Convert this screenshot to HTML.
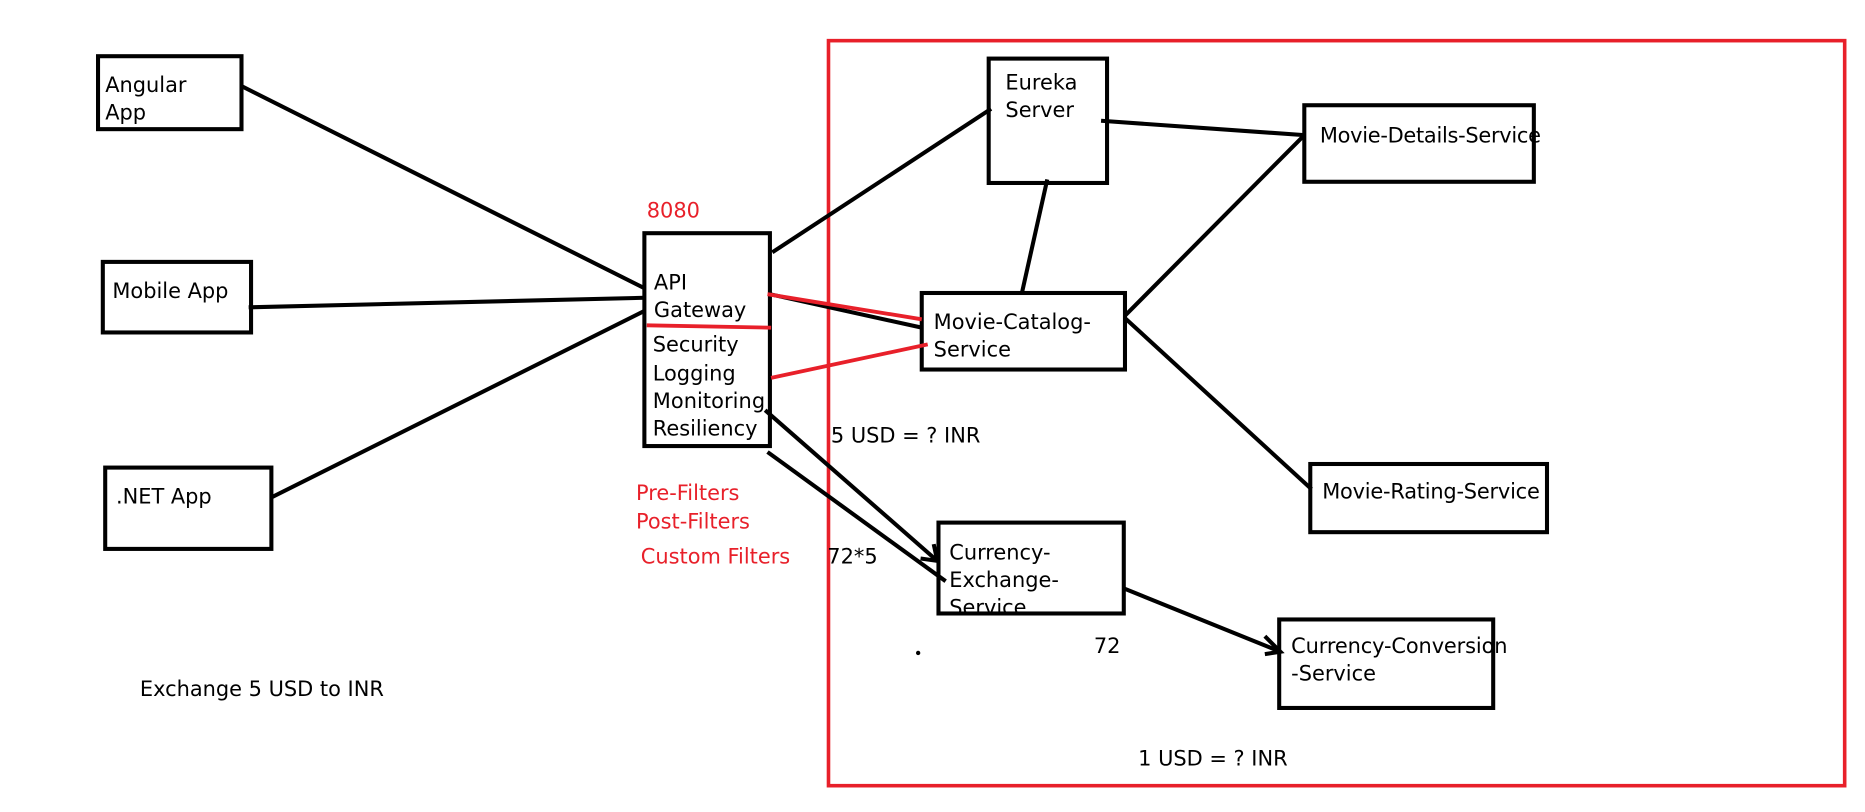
<!DOCTYPE html>
<html><head><meta charset="utf-8"><style>
html,body{margin:0;padding:0;background:#fff;width:1865px;height:812px;overflow:hidden}
svg{display:block}
text{font-family:"DejaVu Sans","Liberation Sans",sans-serif;font-size:17.5px;fill:#000}
.r{fill:#e8202a}
</style></head><body>
<svg width="1865" height="812" viewBox="0 0 1560 679" preserveAspectRatio="none">
<defs><clipPath id="ce"><rect x="785" y="437" width="155" height="75"/></clipPath></defs>
<rect x="693" y="34" width="850" height="623" fill="none" stroke="#e8202a" stroke-width="3"/>
<g fill="none" stroke="#000" stroke-width="3.4">
<rect x="82" y="47" width="120" height="61"/>
<rect x="86" y="219" width="124" height="59"/>
<rect x="88" y="391" width="139" height="68"/>
<rect x="539" y="195" width="105" height="178"/>
<rect x="827" y="49" width="99" height="104"/>
<rect x="1091" y="88" width="192" height="64"/>
<rect x="771" y="245" width="170" height="64"/>
<rect x="1096" y="388" width="198" height="57"/>
<rect x="785" y="437" width="155" height="76"/>
<rect x="1070" y="518" width="179" height="74"/>
<line x1="202" y1="72" x2="539" y2="241"/>
<line x1="208" y1="257" x2="539" y2="249"/>
<line x1="227" y1="416" x2="539" y2="260"/>
<line x1="646" y1="211" x2="829" y2="91"/>
<line x1="921" y1="101" x2="1091" y2="113"/>
<line x1="876" y1="150" x2="855" y2="244"/>
<line x1="941" y1="264" x2="1091" y2="113"/>
<line x1="941" y1="266" x2="1097" y2="409"/>
<line x1="644" y1="246" x2="771" y2="274"/>
<line x1="640" y1="343" x2="784" y2="469"/>
<polyline points="770,467 784,469 781,455"/>
<line x1="642" y1="378" x2="791" y2="486"/>
<line x1="940" y1="492" x2="1071" y2="545"/>
<polyline points="1058,532 1071,545 1058,547"/>
</g>
<g stroke="#e8202a" stroke-width="3.2">
<line x1="541" y1="272" x2="645" y2="274"/>
<line x1="642" y1="246" x2="771" y2="267"/>
<line x1="645" y1="316" x2="776" y2="288"/>
</g>
<circle cx="768" cy="546" r="1.8" fill="#000"/>
<text x="88" y="77">Angular</text><text x="88" y="100">App</text>
<text x="94" y="249">Mobile App</text>
<text x="97" y="421">.NET App</text>
<text class="r" x="541" y="182">8080</text>
<text x="547" y="242">API</text><text x="547" y="265">Gateway</text>
<text x="546" y="294">Security</text><text x="546" y="318">Logging</text>
<text x="546" y="341" textLength="94">Monitoring</text><text x="546" y="364">Resiliency</text>
<text class="r" x="532" y="418">Pre-Filters</text>
<text class="r" x="532" y="442">Post-Filters</text>
<text class="r" x="536" y="471">Custom Filters</text>
<text x="117" y="582">Exchange 5 USD to INR</text>
<text x="841" y="75">Eureka</text><text x="841" y="98">Server</text>
<text x="1104" y="119" textLength="185">Movie-Details-Service</text>
<text x="781" y="275">Movie-Catalog-</text><text x="781" y="298">Service</text>
<text x="1106" y="417" textLength="182">Movie-Rating-Service</text>
<g clip-path="url(#ce)"><text x="794" y="468">Currency-</text><text x="794" y="491">Exchange-</text><text x="794" y="514">Service</text></g>
<text x="1080" y="546" textLength="181">Currency-Conversion</text>
<text x="1080" y="569">-Service</text>
<text x="695" y="370">5 USD = ? INR</text>
<text x="692" y="471">72*5</text>
<text x="915" y="546">72</text>
<text x="952" y="640">1 USD = ? INR</text>
</svg>
</body></html>
